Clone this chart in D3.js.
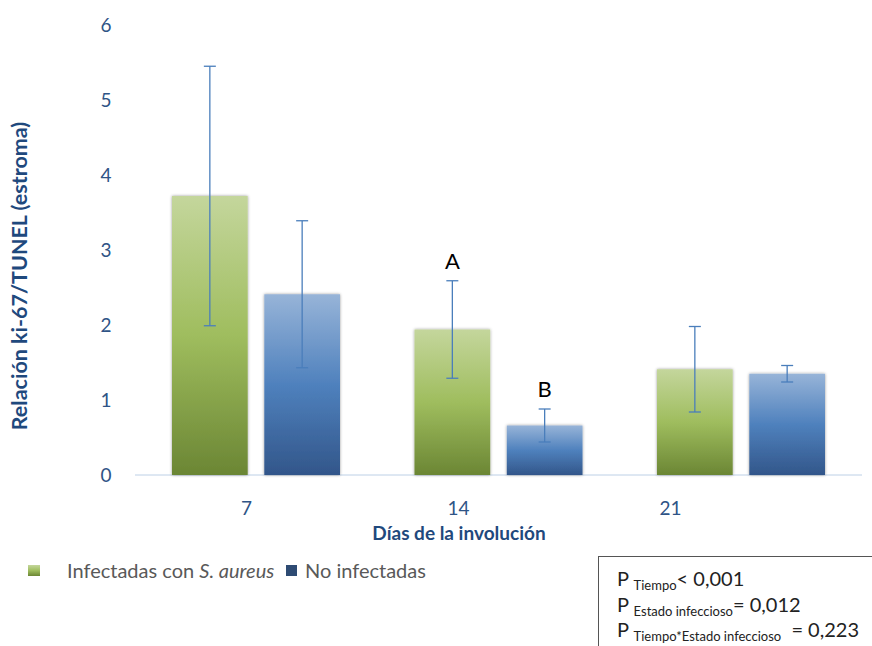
<!DOCTYPE html>
<html>
<head>
<meta charset="utf-8">
<script src="https://cdn.jsdelivr.net/npm/d3@7"></script>
<style>
  html, body { margin: 0; padding: 0; background: #fff; }
  svg { display: block; }
</style>
</head>
<body>
<svg id="chart" width="872" height="646"></svg>
<script>
// Ki-67/TUNEL ratio in the stroma by day of involution
const days = ["7", "14", "21"];
const seriesNames = ["Infectadas con S. aureus", "No infectadas"];
const infectedMean = [3.72, 1.94, 1.41];
const infectedErr = [1.73, 0.65, 0.57];
const uninfectedMean = [2.41, 0.66, 1.35];
const uninfectedErr = [0.98, 0.22, 0.11];
const letters = [null, "A", null]; // letters over infected bars
const lettersB = [null, "B", null]; // letters over uninfected bars
const yTicks = [0, 1, 2, 3, 4, 5, 6];

const rows = days.map((d, i) => ({
  day: d,
  values: [
    { s: 0, v: infectedMean[i], e: infectedErr[i], letter: letters[i] },
    { s: 1, v: uninfectedMean[i], e: uninfectedErr[i], letter: lettersB[i] }
  ]
}));

const svg = d3.select("#chart");
const font = "Lato, 'Open Sans', sans-serif";
const axisColor = "#2f5486";

const y = d3.scaleLinear().domain([0, 6]).range([475, 25]);
const x0 = d3.scaleBand().domain(days).range([135, 862.5]).padding(0);
const x1 = d3.scaleBand().domain([0, 1]).range([37, 205]).paddingInner(0.18);
const xLabel = d3.scalePoint().domain(days).range([246, 670]);

// gradients and shadow
const defs = svg.append("defs");
const grads = [
  { id: "gGreen", stops: ["#c4d69c", "#9fbd5e", "#6b8634"] },
  { id: "gBlue", stops: ["#97b4d8", "#4f81bd", "#32568a"] }
];
grads.forEach(g => {
  const lg = defs.append("linearGradient").attr("id", g.id)
    .attr("x1", 0).attr("y1", 0).attr("x2", 0).attr("y2", 1);
  lg.append("stop").attr("offset", "0%").attr("stop-color", g.stops[0]);
  lg.append("stop").attr("offset", "50%").attr("stop-color", g.stops[1]);
  lg.append("stop").attr("offset", "100%").attr("stop-color", g.stops[2]);
});
const f = defs.append("filter").attr("id", "shadow")
  .attr("x", "-20%").attr("y", "-20%").attr("width", "140%").attr("height", "140%");
f.append("feDropShadow").attr("dx", 0).attr("dy", 0).attr("stdDeviation", 1.8)
  .attr("flood-color", "#000").attr("flood-opacity", 0.4);

// y axis (labels only)
const yAxis = d3.axisLeft(y).tickValues(yTicks).tickFormat(d3.format("d"))
  .tickSize(0).tickPadding(0);
const gy = svg.append("g").attr("transform", "translate(106,0)").call(yAxis);
gy.select(".domain").remove();
gy.selectAll("text").attr("font-family", font).attr("font-size", 19)
  .attr("fill", axisColor).attr("dy", "0.35em").attr("text-anchor", "middle");

// baseline
svg.append("line").attr("x1", 135).attr("x2", 862).attr("y1", y(0)).attr("y2", y(0))
  .attr("stroke", "#bdd0e6").attr("stroke-width", 1);

// bars
const groups = svg.append("g").selectAll("g").data(rows).join("g")
  .attr("transform", d => `translate(${x0(d.day)},0)`);

groups.selectAll("rect").data(d => d.values).join("rect")
  .attr("x", d => x1(d.s))
  .attr("width", x1.bandwidth())
  .attr("y", d => y(d.v))
  .attr("height", d => y(0) - y(d.v))
  .attr("fill", d => d.s === 0 ? "url(#gGreen)" : "url(#gBlue)")
  .attr("filter", "url(#shadow)");

// error bars
const errColor = "#4a7ebb";
const capW = 12;
const eb = groups.selectAll("g.err").data(d => d.values).join("g").attr("class", "err");
eb.append("line")
  .attr("x1", d => x1(d.s) + x1.bandwidth() / 2)
  .attr("x2", d => x1(d.s) + x1.bandwidth() / 2)
  .attr("y1", d => y(d.v + d.e)).attr("y2", d => y(d.v - d.e))
  .attr("stroke", errColor).attr("stroke-width", 1.3);
[1, -1].forEach(sign => {
  eb.append("line")
    .attr("x1", d => x1(d.s) + x1.bandwidth() / 2 - capW / 2)
    .attr("x2", d => x1(d.s) + x1.bandwidth() / 2 + capW / 2)
    .attr("y1", d => y(d.v + sign * d.e)).attr("y2", d => y(d.v + sign * d.e))
    .attr("stroke", errColor).attr("stroke-width", 1.3);
});

// significance letters
groups.selectAll("text.letter").data(d => d.values.filter(v => v.letter)).join("text")
  .attr("class", "letter")
  .attr("x", d => x1(d.s) + x1.bandwidth() / 2)
  .attr("y", d => y(d.v + d.e) - 12)
  .attr("text-anchor", "middle")
  .attr("font-family", font)
  .attr("font-size", 22).attr("fill", "#000")
  .text(d => d.letter);

// x axis labels
const xAxis = d3.axisBottom(xLabel).tickSize(0).tickPadding(0);
const gx = svg.append("g").attr("transform", "translate(0,508)").call(xAxis);
gx.select(".domain").remove();
gx.selectAll("text").attr("font-family", font).attr("font-size", 19)
  .attr("fill", axisColor).attr("dy", "0.35em");

// axis titles
svg.append("text").attr("x", 459).attr("y", 540).attr("text-anchor", "middle")
  .attr("font-family", font).attr("font-size", 19).attr("font-weight", "bold")
  .attr("fill", "#1f497d").text("Días de la involución");
svg.append("text").attr("transform", "translate(27,276) rotate(-90)")
  .attr("text-anchor", "middle")
  .attr("font-family", font).attr("font-size", 21.5).attr("font-weight", "bold")
  .attr("fill", "#1f497d").text("Relación ki-67/TUNEL (estroma)");

// legend
const legendColor = "#595959";
const lg = svg.append("g");
lg.append("rect").attr("x", 28).attr("y", 565).attr("width", 12).attr("height", 11)
  .attr("fill", "url(#gGreen)");
const t1 = lg.append("text").attr("x", 67).attr("y", 578)
  .attr("font-family", font).attr("font-size", 20).attr("fill", legendColor);
t1.append("tspan").text("Infectadas con ");
t1.append("tspan").attr("font-style", "italic").text("S. aureus");
lg.append("rect").attr("x", 286).attr("y", 565).attr("width", 11).attr("height", 11)
  .attr("fill", "#2e4b73");
lg.append("text").attr("x", 305).attr("y", 578)
  .attr("font-family", font).attr("font-size", 20).attr("fill", legendColor)
  .text(seriesNames[1]);

// statistics box
const stats = [
  { sub: "Tiempo", rest: "< 0,001" },
  { sub: "Estado infeccioso", rest: "= 0,012" },
  { sub: "Tiempo*Estado infeccioso", rest: "  = 0,223" }
];
const box = svg.append("g");
box.append("rect").attr("x", 598.5).attr("y", 556.5).attr("width", 290).attr("height", 100)
  .attr("fill", "#fff").attr("stroke", "#555").attr("stroke-width", 1);
stats.forEach((s, i) => {
  const t = box.append("text").attr("x", 617).attr("y", 586 + i * 25.5)
    .attr("font-family", font).attr("fill", "#222").attr("font-size", 20)
    .attr("xml:space", "preserve");
  t.append("tspan").text("P ");
  t.append("tspan").attr("font-size", 13).attr("dy", 4).text(s.sub);
  t.append("tspan").attr("dy", -4).text(s.rest);
});
</script>
</body>
</html>
